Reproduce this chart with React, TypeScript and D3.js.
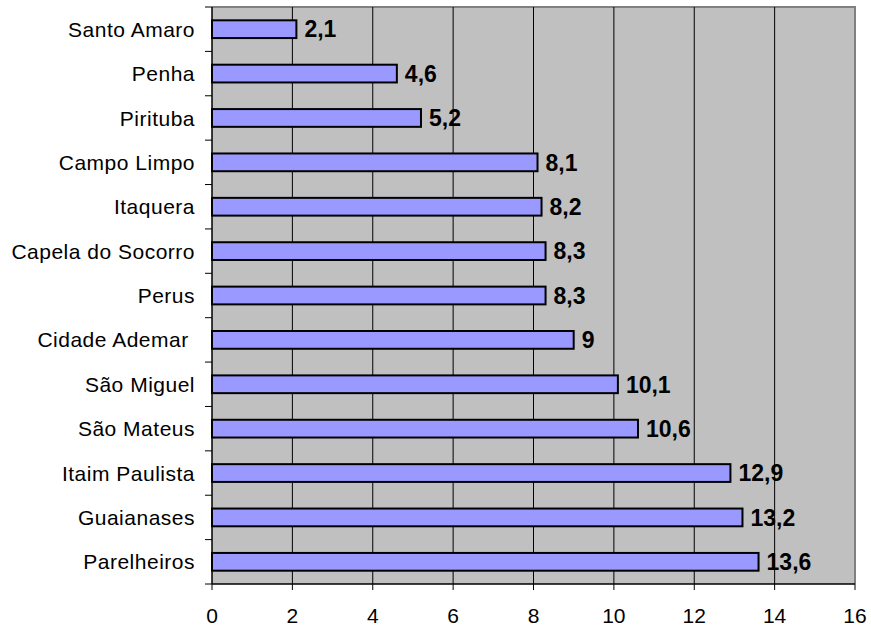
import React from "react";
import * as d3 from "d3";

// Districts, top to bottom, and their values
const districts = [
  "Santo Amaro",
  "Penha",
  "Pirituba",
  "Campo Limpo",
  "Itaquera",
  "Capela do Socorro",
  "Perus",
  "Cidade Ademar ",
  "São Miguel",
  "São Mateus",
  "Itaim Paulista",
  "Guaianases",
  "Parelheiros",
];
const values = [2.1, 4.6, 5.2, 8.1, 8.2, 8.3, 8.3, 9, 10.1, 10.6, 12.9, 13.2, 13.6];
const xTicks = [0, 2, 4, 6, 8, 10, 12, 14, 16];

const W = 871;
const H = 627;
const plot = { left: 212, right: 855, top: 7, bottom: 584 };

const fmt = (v: number) => String(v).replace(".", ",");

export default function App() {
  const x = d3.scaleLinear().domain([0, 16]).range([plot.left, plot.right]);
  const y = d3
    .scaleBand<string>()
    .domain(districts)
    .range([plot.top, plot.bottom])
    .paddingInner(0.6)
    .paddingOuter(0.3);
  const step = y.step();
  const bh = y.bandwidth();
  const boundaries = d3.range(districts.length + 1).map((i) => plot.top + i * step);
  const font = "Arial, 'Liberation Sans', Helvetica, sans-serif";

  return (
    <svg
      width={W}
      height={H}
      style={{ position: "absolute", left: 0, top: 0, background: "#fff" }}
      fontFamily={font}
    >
      {/* plot background */}
      <rect
        x={plot.left}
        y={plot.top}
        width={plot.right - plot.left}
        height={plot.bottom - plot.top}
        fill="#C0C0C0"
      />
      {/* gray frame on top and right */}
      <path
        d={`M${plot.left},${plot.top} H${plot.right} V${plot.bottom}`}
        fill="none"
        stroke="#808080"
        strokeWidth={2}
      />
      {/* vertical gridlines */}
      {xTicks.slice(1, -1).map((t) => (
        <line
          key={t}
          x1={x(t)}
          x2={x(t)}
          y1={plot.top}
          y2={plot.bottom}
          stroke="#000"
          strokeWidth={1}
        />
      ))}
      {/* bars */}
      {districts.map((d, i) => (
        <g key={d}>
          <rect
            x={x(0)}
            y={y(d)!}
            width={x(values[i]) - x(0)}
            height={bh}
            fill="#9999FF"
            stroke="#000"
            strokeWidth={2}
          />
          <text
            x={x(values[i]) + 8}
            y={y(d)! + bh / 2}
            dy="0.36em"
            fontSize={23}
            fontWeight="bold"
            fill="#000"
          >
            {fmt(values[i])}
          </text>
        </g>
      ))}
      {/* y axis */}
      <line x1={plot.left} x2={plot.left} y1={plot.top} y2={plot.bottom} stroke="#000" strokeWidth={1.5} />
      {boundaries.map((b, i) => (
        <line key={i} x1={plot.left - 7} x2={plot.left} y1={b} y2={b} stroke="#000" strokeWidth={1} />
      ))}
      {districts.map((d) => (
        <text
          key={d}
          x={plot.left - 17}
          y={y(d)! + bh / 2}
          dy="0.36em"
          textAnchor="end"
          fontSize={21}
          letterSpacing={0.5}
          fill="#000"
          style={{ whiteSpace: "pre" }}
        >
          {d}
        </text>
      ))}
      {/* x axis */}
      <line x1={plot.left} x2={plot.right} y1={plot.bottom} y2={plot.bottom} stroke="#000" strokeWidth={1.5} />
      {xTicks.map((t) => (
        <g key={t}>
          <line x1={x(t)} x2={x(t)} y1={plot.bottom} y2={plot.bottom + 6} stroke="#000" strokeWidth={1} />
          <text x={x(t)} y={623} textAnchor="middle" fontSize={21} fill="#000">
            {t}
          </text>
        </g>
      ))}
    </svg>
  );
}
